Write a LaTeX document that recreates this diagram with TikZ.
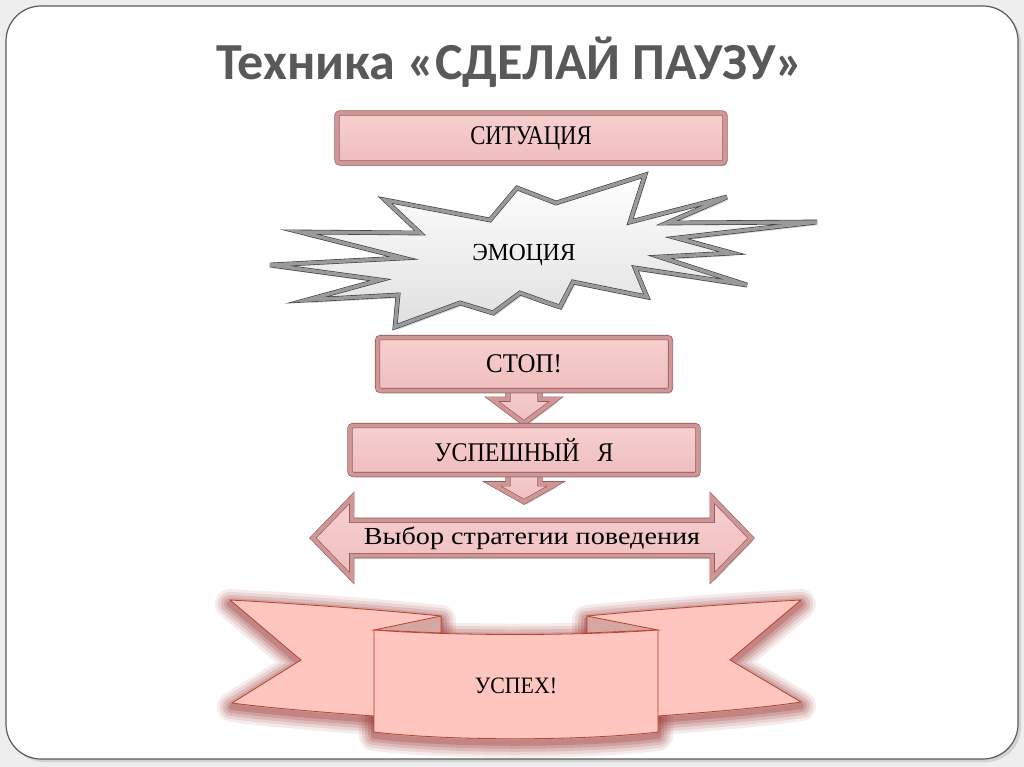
\documentclass[tikz,border=0pt]{standalone}
\usepackage{fontspec}
\usepackage{graphicx}
\setmainfont{Liberation Serif}
\newfontfamily\titlefont{Carlito}
\usetikzlibrary{calc,shadows,backgrounds}
\newcommand{\hsq}[2]{\scalebox{#1}[1]{#2}}
\definecolor{bgout}{HTML}{EEEEEE}
\definecolor{frameline}{HTML}{5A5A5A}
\definecolor{titlegray}{HTML}{595959}
\definecolor{pinkface}{HTML}{F8D0D0}
\definecolor{pinkface2}{HTML}{EFBDBD}
\definecolor{pinkbevel}{HTML}{D09696}
\definecolor{pinkline}{HTML}{8A5858}
\definecolor{starline}{HTML}{3A3A3A}
\definecolor{starbevel}{HTML}{9A9A9A}
\definecolor{ribfill}{HTML}{FFC5BF}
\definecolor{ribline}{HTML}{B4442A}
\definecolor{ribglow}{HTML}{A03C3C}
\definecolor{ribfold}{HTML}{D6A6A2}
\begin{document}
\begin{tikzpicture}[x=1pt,y=-1pt,
  boxtext/.style={font=\fontsize{27}{31}\selectfont, text=black},
  smalltext/.style={font=\fontsize{24.5}{28}\selectfont, text=black},
  pinkbox/.style={draw=pinkline, line width=0.6pt, double=pinkbevel, double distance=4pt,
    top color=pinkface, bottom color=pinkface2, rounded corners=3pt,
    drop shadow={shadow xshift=2pt,shadow yshift=-3pt,opacity=0.35},
    inner sep=0pt, boxtext},
  blockarrow/.style={draw=pinkline, line width=0.6pt, double=pinkbevel, double distance=4pt,
    top color=pinkface, bottom color=pinkface2, line join=miter,
    drop shadow={shadow xshift=2pt,shadow yshift=-3pt,opacity=0.35}},
  starstyle/.style={draw=starline, line width=0.6pt, double=starbevel, double distance=3.5pt,
    top color=white, bottom color=gray!25, line join=miter,
    drop shadow={shadow xshift=2pt,shadow yshift=-3pt,opacity=0.35}},
  ribpart/.style={fill=ribfill, draw=ribline, line width=0.8pt},
  ribfoldst/.style={fill=ribfold, draw=ribline, line width=0.8pt},
  ribglowst/.style={draw=ribglow, line join=round}
]
\useasboundingbox (0,0) rectangle (1024,767);
\begin{scope}[on background layer]
  \fill[bgout] (0,0) rectangle (1024,767);
  \fill[gray!35, rounded corners=35] (9,9) rectangle (1021,762);
  \draw[frameline, fill=white, line width=1.2pt, rounded corners=35] (6,6) rectangle (1018,759);
\end{scope}

% title
\node[font=\titlefont\bfseries\fontsize{52}{58}\selectfont, text=titlegray, anchor=base] (title) at (510,80) {Техника «СДЕЛАЙ ПАУЗУ»};

% situation
\node[pinkbox, minimum width=388, minimum height=50] (sit) at (531,138) {\hsq{0.84}{СИТУАЦИЯ}};

% emotion burst
\draw[starstyle] (385,200) -- (490,220) -- (517,188) -- (556,203) -- (645,175) -- (630,222)
  -- (727,197) -- (667,223) -- (817,222) -- (677,238) -- (732,253) -- (660,257) -- (747,285)
  -- (635,268) -- (647,297) -- (573,282) -- (560,307) -- (545,302) -- (520,293) -- (493,313)
  -- (460,303) -- (395,327) -- (398,295) -- (307,300) -- (380,280) -- (270,265) -- (403,258)
  -- (300,232) -- (420,233) -- cycle;
\node[smalltext] (emo) at (524,255) {\hsq{0.96}{ЭМОЦИЯ}};

% stop
\node[pinkbox, minimum width=293, minimum height=53] (stop) at (524,364) {\hsq{0.92}{СТОП!}};
% successful me
\node[pinkbox, minimum width=348, minimum height=49] (usp) at (524,450) {\hsq{0.89}{УСПЕШНЫЙ\ \ \ Я}};
% choice
\node[smalltext, minimum width=360, minimum height=35, inner sep=0pt] (choice) at (532,538) {\hsq{1.15}{Выбор стратегии поведения}};
\coordinate (tip2) at ($(usp.south)+(0,27)$);

\begin{scope}[on background layer]
  \draw[blockarrow] ($(stop.south)+(-16,-6)$) -- ($(stop.south)+(16,-6)$) -- ($(usp.north)+(16,-26)$)
    -- ($(usp.north)+(32,-26)$) -- ($(usp.north)+(0,-2)$) -- ($(usp.north)+(-32,-26)$)
    -- ($(usp.north)+(-16,-26)$) -- cycle;
  \draw[blockarrow] ($(usp.south)+(-16,-6)$) -- ($(usp.south)+(16,-6)$) -- ($(tip2)+(16,-18)$)
    -- ($(tip2)+(32,-18)$) -- (tip2) -- ($(tip2)+(-32,-18)$)
    -- ($(tip2)+(-16,-18)$) -- cycle;
  \draw[blockarrow] (choice.north west) -- (choice.north east) -- ($(choice.north east)+(0,-22.5)$)
    -- ($(choice.east)+(39,0)$) -- ($(choice.south east)+(0,22.5)$) -- (choice.south east)
    -- (choice.south west) -- ($(choice.south west)+(0,22.5)$) -- ($(choice.west)+(-39,0)$)
    -- ($(choice.north west)+(0,-22.5)$) -- cycle;
\end{scope}

% ribbon
\def\lwing{(230,600) .. controls (320,605) and (390,611) .. (441,616) -- (441,716) -- (374,716) .. controls (320,712) and (270,708) .. (232,703) -- (301,660) -- cycle}
\def\rwing{(587,616) .. controls (640,611) and (710,605) .. (801,600) -- (730,660) -- (801,702) .. controls (760,708) and (710,712) .. (658,716) -- (587,716) -- cycle}
\def\panel{(374,630) .. controls (450,636) and (580,636) .. (658,630) -- (658,732) .. controls (580,741) and (450,741) .. (374,732) -- cycle}
\begin{scope}[shift={(0,4)}]
  \foreach \w/\o in {30/0.10, 24/0.13, 18/0.16, 12/0.20, 6/0.28}{
    \draw[ribglowst, line width=\w, opacity=\o] \lwing;
    \draw[ribglowst, line width=\w, opacity=\o] \rwing;
    \draw[ribglowst, line width=\w, opacity=\o] \panel;
  }
\end{scope}
\draw[ribpart] \lwing;
\draw[ribpart] \rwing;
\draw[ribfoldst] (374,630) -- (441,616) -- (441,633) -- cycle;
\draw[ribfoldst] (658,630) -- (587,616) -- (587,633) -- cycle;
\draw[ribpart] \panel;
\node[font=\fontsize{23.5}{27}\selectfont] (succ) at (516,686) {\hsq{0.93}{УСПЕХ!}};
\end{tikzpicture}
\end{document}
